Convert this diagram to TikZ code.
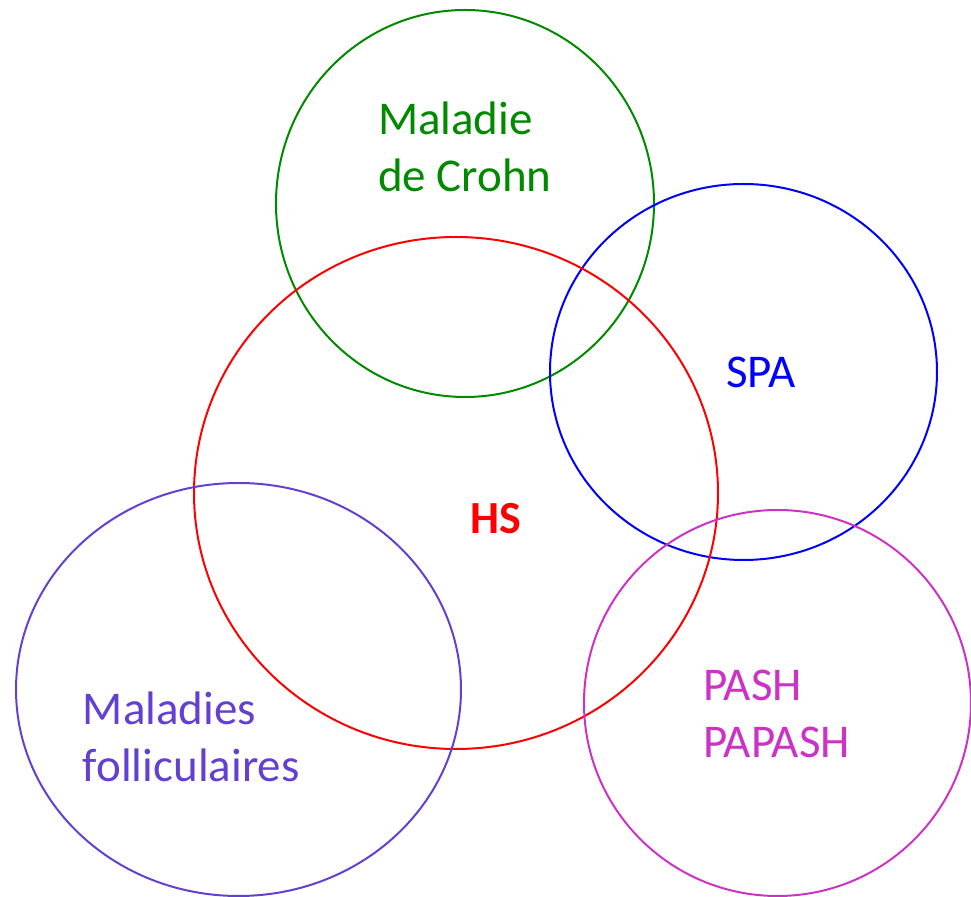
\documentclass[tikz,border=0pt]{standalone}
\usepackage{fontspec}
\setmainfont{Carlito}
\usepackage{xcolor}
\definecolor{crohngreen}{HTML}{008A00}
\definecolor{spablue}{HTML}{0000FF}
\definecolor{hsred}{HTML}{FF0000}
\definecolor{follpurple}{HTML}{6440D2}
\definecolor{pashmagenta}{HTML}{CC33C4}

\begin{document}
\begin{tikzpicture}[x=0.5pt,y=-0.5pt,line width=1pt,
  lbl/.style={anchor=base west,inner sep=0pt,align=left,
    font=\fontsize{23.5}{28.5}\selectfont}]
\useasboundingbox (0,0) rectangle (971,897);
% circles
\draw[crohngreen] (465,203.5) ellipse [x radius=189,y radius=193.5];
\draw[spablue] (743.5,372) ellipse [x radius=193.5,y radius=188];
\draw[hsred] (456,493) ellipse [x radius=262,y radius=256];
\draw[follpurple] (238.5,689.5) ellipse [x radius=222.5,y radius=206.5];
\draw[pashmagenta] (777.5,703) ellipse [x radius=193.5,y radius=193];
% labels (base = last line)
\node[lbl,text=crohngreen] (crohn) at (377,192) {Maladie\\de Crohn};
\node[lbl,text=spablue] (spa) at (725,388) {SPA};
\node[lbl,text=hsred,font=\fontsize{23}{28.5}\selectfont\bfseries] (hs) at (469,534) {HS};
\node[lbl,text=pashmagenta] (pash) at (702,758) {PASH\\PAPASH};
\node[lbl,text=follpurple] (foll) at (82,782) {Maladies\\folliculaires};
\end{tikzpicture}
\end{document}
